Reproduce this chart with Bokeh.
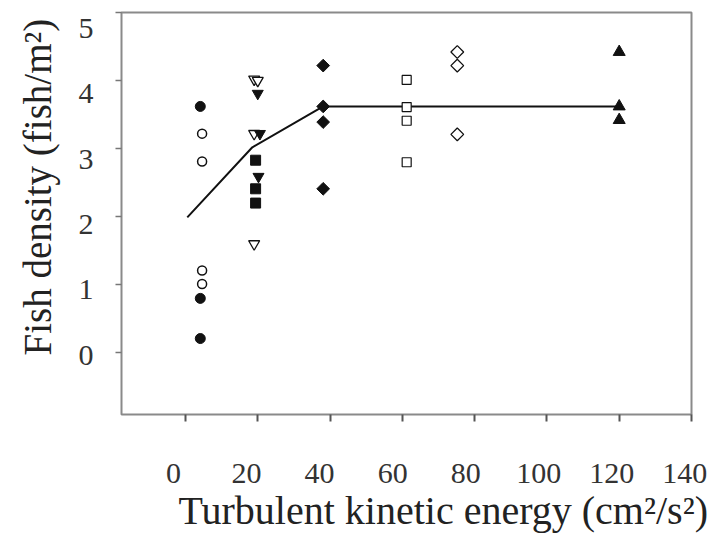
from bokeh.plotting import figure
from bokeh.models import Range1d, LinearAxis, FixedTicker, Title
from bokeh.embed import file_html
from bokeh.resources import INLINE

# ---- data ----
x_ticks = [0, 20, 40, 60, 80, 100, 120, 140]
y_ticks = [0, 1, 2, 3, 4, 5]

circ_filled_x = [4.1, 4.1, 4.1]
circ_filled_y = [3.62, 0.80, 0.21]
circ_open_x = [4.6, 4.6, 4.6, 4.6]
circ_open_y = [3.22, 2.81, 1.21, 1.01]
tri_dn_open_x = [19.0, 20.0, 19.0, 19.0]
tri_dn_open_y = [4.02, 4.00, 3.22, 1.60]
tri_dn_filled_x = [20.0, 20.6, 20.2]
tri_dn_filled_y = [3.81, 3.22, 2.59]
sq_filled_x = [19.4, 19.4, 19.4]
sq_filled_y = [2.83, 2.41, 2.20]
dia_filled_x = [38.1, 38.1, 38.1, 38.1]
dia_filled_y = [4.22, 3.62, 3.39, 2.41]
sq_open_x = [61.2, 61.2, 61.2, 61.2]
sq_open_y = [4.01, 3.61, 3.41, 2.80]
dia_open_x = [75.2, 75.2, 75.2]
dia_open_y = [4.42, 4.22, 3.21]
tri_up_x = [120.0, 120.0, 120.0]
tri_up_y = [4.42, 3.62, 3.42]
fit_x = [0.5, 18.5, 38.1, 120.0]
fit_y = [1.99, 3.02, 3.62, 3.62]

x_title = "Turbulent kinetic energy (cm²/s²)"
y_title = "Fish density (fish/m²)"

FONT = "Liberation Serif"
INK = "#111111"

p = figure(width=718, height=542, output_backend="svg", toolbar_location=None,
           x_range=Range1d(-17.7, 140.0), y_range=Range1d(-0.906, 5.0),
           min_border_left=121, min_border_right=27, min_border_top=12,
           min_border_bottom=128)
p.background_fill_color = "white"
p.border_fill_color = "white"
p.outline_line_color = "#8a8a8a"
p.outline_line_width = 2
p.xgrid.grid_line_color = None
p.ygrid.grid_line_color = None

# label ranges (the printed labels sit slightly off the tick marks in the reference)
p.extra_x_ranges = {"lab": Range1d(-14.25, 141.84)}
p.extra_y_ranges = {"lab": Range1d(-0.901, 5.237)}

# x axis carrying the tick marks only
ax = p.xaxis[0]
ax.ticker = FixedTicker(ticks=x_ticks)
ax.axis_line_color = None
ax.major_tick_out = 0
ax.major_tick_in = -7
ax.major_tick_line_color = "#555555"
ax.major_tick_line_width = 2
ax.minor_tick_line_color = None
ax.major_label_overrides = {t: "" for t in x_ticks}
ax.major_label_standoff = 0
ax.major_label_text_font_size = "1px"

xlab = LinearAxis(x_range_name="lab", ticker=FixedTicker(ticks=x_ticks),
                  axis_line_color=None, major_tick_line_color=None,
                  minor_tick_line_color=None, major_tick_out=0, major_tick_in=0,
                  major_label_standoff=49, major_label_text_font=FONT,
                  major_label_text_font_size="30px", major_label_text_color="#333333")
p.add_layout(xlab, "below")

# y axis carrying the tick marks only
ay = p.yaxis[0]
ay.ticker = FixedTicker(ticks=y_ticks)
ay.axis_line_color = None
ay.major_tick_out = 0
ay.major_tick_in = -6
ay.major_tick_line_color = "#777777"
ay.major_tick_line_width = 1.5
ay.minor_tick_line_color = None
ay.major_label_overrides = {t: "" for t in y_ticks}
ay.major_label_standoff = 0
ay.major_label_text_font_size = "1px"

ylab = LinearAxis(y_range_name="lab", ticker=FixedTicker(ticks=y_ticks),
                  axis_line_color=None, major_tick_line_color=None,
                  minor_tick_line_color=None, major_tick_out=0, major_tick_in=0,
                  major_label_standoff=28, major_label_text_font=FONT,
                  major_label_text_font_size="30px", major_label_text_color="#333333")
p.add_layout(ylab, "left")

p.add_layout(Title(text=x_title, align="left", offset=57, text_font=FONT,
                   text_font_size="40px", text_font_style="normal",
                   text_color="#222222", standoff=0), "below")

p.add_layout(Title(text=y_title, align="left", offset=59, vertical_align="top",
                   text_font=FONT, text_font_size="39px", text_font_style="normal",
                   text_color="#222222", standoff=30), "left")

# fitted line
p.line(fit_x, fit_y, line_color=INK, line_width=2)

# markers
p.scatter(circ_filled_x, circ_filled_y, marker="circle", size=10,
          fill_color=INK, line_color=INK)
p.scatter(circ_open_x, circ_open_y, marker="circle", size=9,
          fill_color="white", line_color=INK, line_width=1.5)
p.scatter(tri_dn_open_x, tri_dn_open_y, marker="inverted_triangle", size=11,
          fill_color="white", line_color=INK, line_width=1.3)
p.scatter(tri_dn_filled_x, tri_dn_filled_y, marker="inverted_triangle", size=11,
          fill_color=INK, line_color=INK)
p.scatter(sq_filled_x, sq_filled_y, marker="square", size=10,
          fill_color=INK, line_color=INK)
p.scatter(dia_filled_x, dia_filled_y, marker="square", angle=0.785398, size=9,
          fill_color=INK, line_color=INK)
p.scatter(sq_open_x, sq_open_y, marker="square", size=9,
          fill_color="white", line_color=INK, line_width=1.2)
p.scatter(dia_open_x, dia_open_y, marker="square", angle=0.785398, size=9,
          fill_color="white", line_color=INK, line_width=1.3)
p.scatter(tri_up_x, tri_up_y, marker="triangle", size=12,
          fill_color=INK, line_color=INK)

open("out.html", "w").write(file_html(p, INLINE))
